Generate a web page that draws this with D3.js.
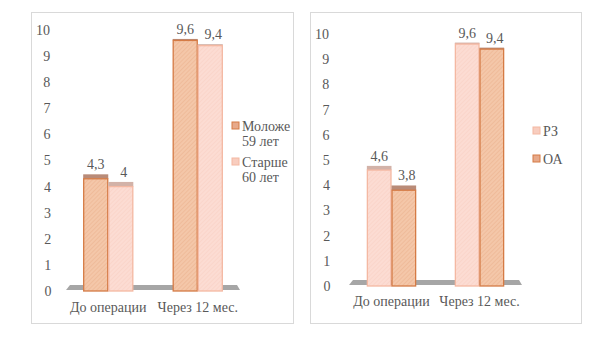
<!DOCTYPE html>
<html><head><meta charset="utf-8">
<script src="https://cdn.jsdelivr.net/npm/d3@7"></script>
<style>body{margin:0;background:#fff}svg{display:block}svg text{font-family:"Liberation Serif",Tinos,"Times New Roman","DejaVu Serif",serif !important}</style>
</head><body><svg id="c" width="601" height="338"></svg>
<script>
const categories = ["До операции", "Через 12 мес."];
const yTicks = [0,1,2,3,4,5,6,7,8,9,10];
const leftSeries = ["Моложе 59 лет", "Старше 60 лет"];
const leftYounger = [4.3, 9.6];
const leftOlder = [4.0, 9.4];
const rightSeries = ["РЗ", "ОА"];
const rightRZ = [4.6, 9.6];
const rightOA = [3.8, 9.4];

const FS = 14;
const TXT = "#595959";
const svg = d3.select("#c");
const defs = svg.append("defs");
function hatch(id, bg, line){
  const p = defs.append("pattern").attr("id", id).attr("patternUnits","userSpaceOnUse")
    .attr("width",3).attr("height",3).attr("patternTransform","rotate(45)");
  p.append("rect").attr("width",3).attr("height",3).attr("fill",bg);
  p.append("line").attr("x1",0).attr("y1",0).attr("x2",0).attr("y2",3).attr("stroke",line).attr("stroke-width",1);
}
hatch("hDark", "#f4c7a9", "#eab08c");
hatch("hLight", "#fcdcd3", "#f8cfc2");
const styles = {
  dark: {fill:"url(#hDark)", stroke:"#d57b45", cap:"#b98b78", legFill:"#e7a98a"},
  light:{fill:"url(#hLight)", stroke:"#f4b8a2", cap:"#d2b2a8", legFill:"#f8cdbf"}
};
const fmt = v => String(v).replace(".", ",");

function panel(cfg){
  const g = svg.append("g");
  g.append("rect").attr("x",cfg.box[0]+0.5).attr("y",cfg.box[1]+0.5)
   .attr("width",cfg.box[2]).attr("height",cfg.box[3])
   .attr("fill","#fff").attr("stroke","#d9d9d9");
  const y = d3.scaleLinear().domain([0,10]).range(cfg.yRange);
  const x = d3.scaleBand().domain(categories).range(cfg.xRange).paddingInner(0.44).paddingOuter(0.22);
  const xs = d3.scaleBand().domain([0,1]).range([0, x.bandwidth()]);
  g.selectAll(".yt").data(yTicks).join("text")
   .attr("x", d => cfg.yLabelX + (10-d)*(0.15))
   .attr("y", d => y(d)).attr("dy","0.35em").attr("text-anchor","end")
   .attr("font-size",FS).attr("fill",TXT).text(d=>d);
  const y0 = y(0);
  const fl = cfg.floor;
  g.append("path").attr("fill","#a6a6a6")
   .attr("d", `M${fl[0]+4},${y0-6}L${fl[1]-3},${y0-6}L${fl[1]},${y0-1}L${fl[0]},${y0-1}Z`);
  cfg.series.forEach((s, si) => {
    const st = styles[s.style];
    s.values.forEach((v, ci) => {
      const bx = x(categories[ci]) + xs(si);
      const bw = xs.bandwidth();
      const top = y(v);
      const capH = Math.max(1.5, (top - 20) * 0.028);
      g.append("rect").attr("x",bx).attr("y",top-capH).attr("width",bw).attr("height",capH)
       .attr("fill",st.cap);
      g.append("rect").attr("x",bx+0.5).attr("y",top).attr("width",bw-1).attr("height",y0-top)
       .attr("fill",st.fill).attr("stroke",st.stroke).attr("stroke-width",1.3);
      g.append("text").attr("x",bx+bw/2 + (si===1?3:0)).attr("y",top-capH-5)
       .attr("text-anchor","middle").attr("font-size",FS).attr("fill",TXT).text(fmt(v));
    });
  });
  g.selectAll(".xt").data(categories).join("text")
   .attr("x", d => x(d)+x.bandwidth()/2).attr("y", cfg.xLabelY)
   .attr("text-anchor","middle").attr("font-size",FS).attr("fill",TXT).text(d=>d);
  cfg.series.forEach((s, si) => {
    const st = styles[s.style];
    const ly = cfg.legY[si];
    g.append("rect").attr("x",cfg.legX).attr("y",ly-4).attr("width",7).attr("height",7)
     .attr("fill",st.legFill).attr("stroke",st.stroke).attr("stroke-width",1);
    s.lines.forEach((ln, li) => {
      g.append("text").attr("x",cfg.legX+10).attr("y",ly+li*15).attr("dy","0.35em")
       .attr("font-size",FS).attr("fill",TXT).text(ln);
    });
  });
}

panel({
  box:[31,12,262,311], yRange:[291,30], xRange:[63.5,242.5], yLabelX:50,
  floor:[66,240], xLabelY:312,
  legX:232, legY:[126,162],
  series:[
    {name:leftSeries[0], lines:["Моложе","59 лет"], values:leftYounger, style:"dark"},
    {name:leftSeries[1], lines:["Старше","60 лет"], values:leftOlder, style:"light"}
  ]
});
panel({
  box:[310,12,271,311], yRange:[286,34], xRange:[347.5,523.5], yLabelX:329,
  floor:[349,522], xLabelY:306,
  legX:533, legY:[131,159],
  series:[
    {name:rightSeries[0], lines:["РЗ"], values:rightRZ, style:"light"},
    {name:rightSeries[1], lines:["ОА"], values:rightOA, style:"dark"}
  ]
});
</script></body></html>
